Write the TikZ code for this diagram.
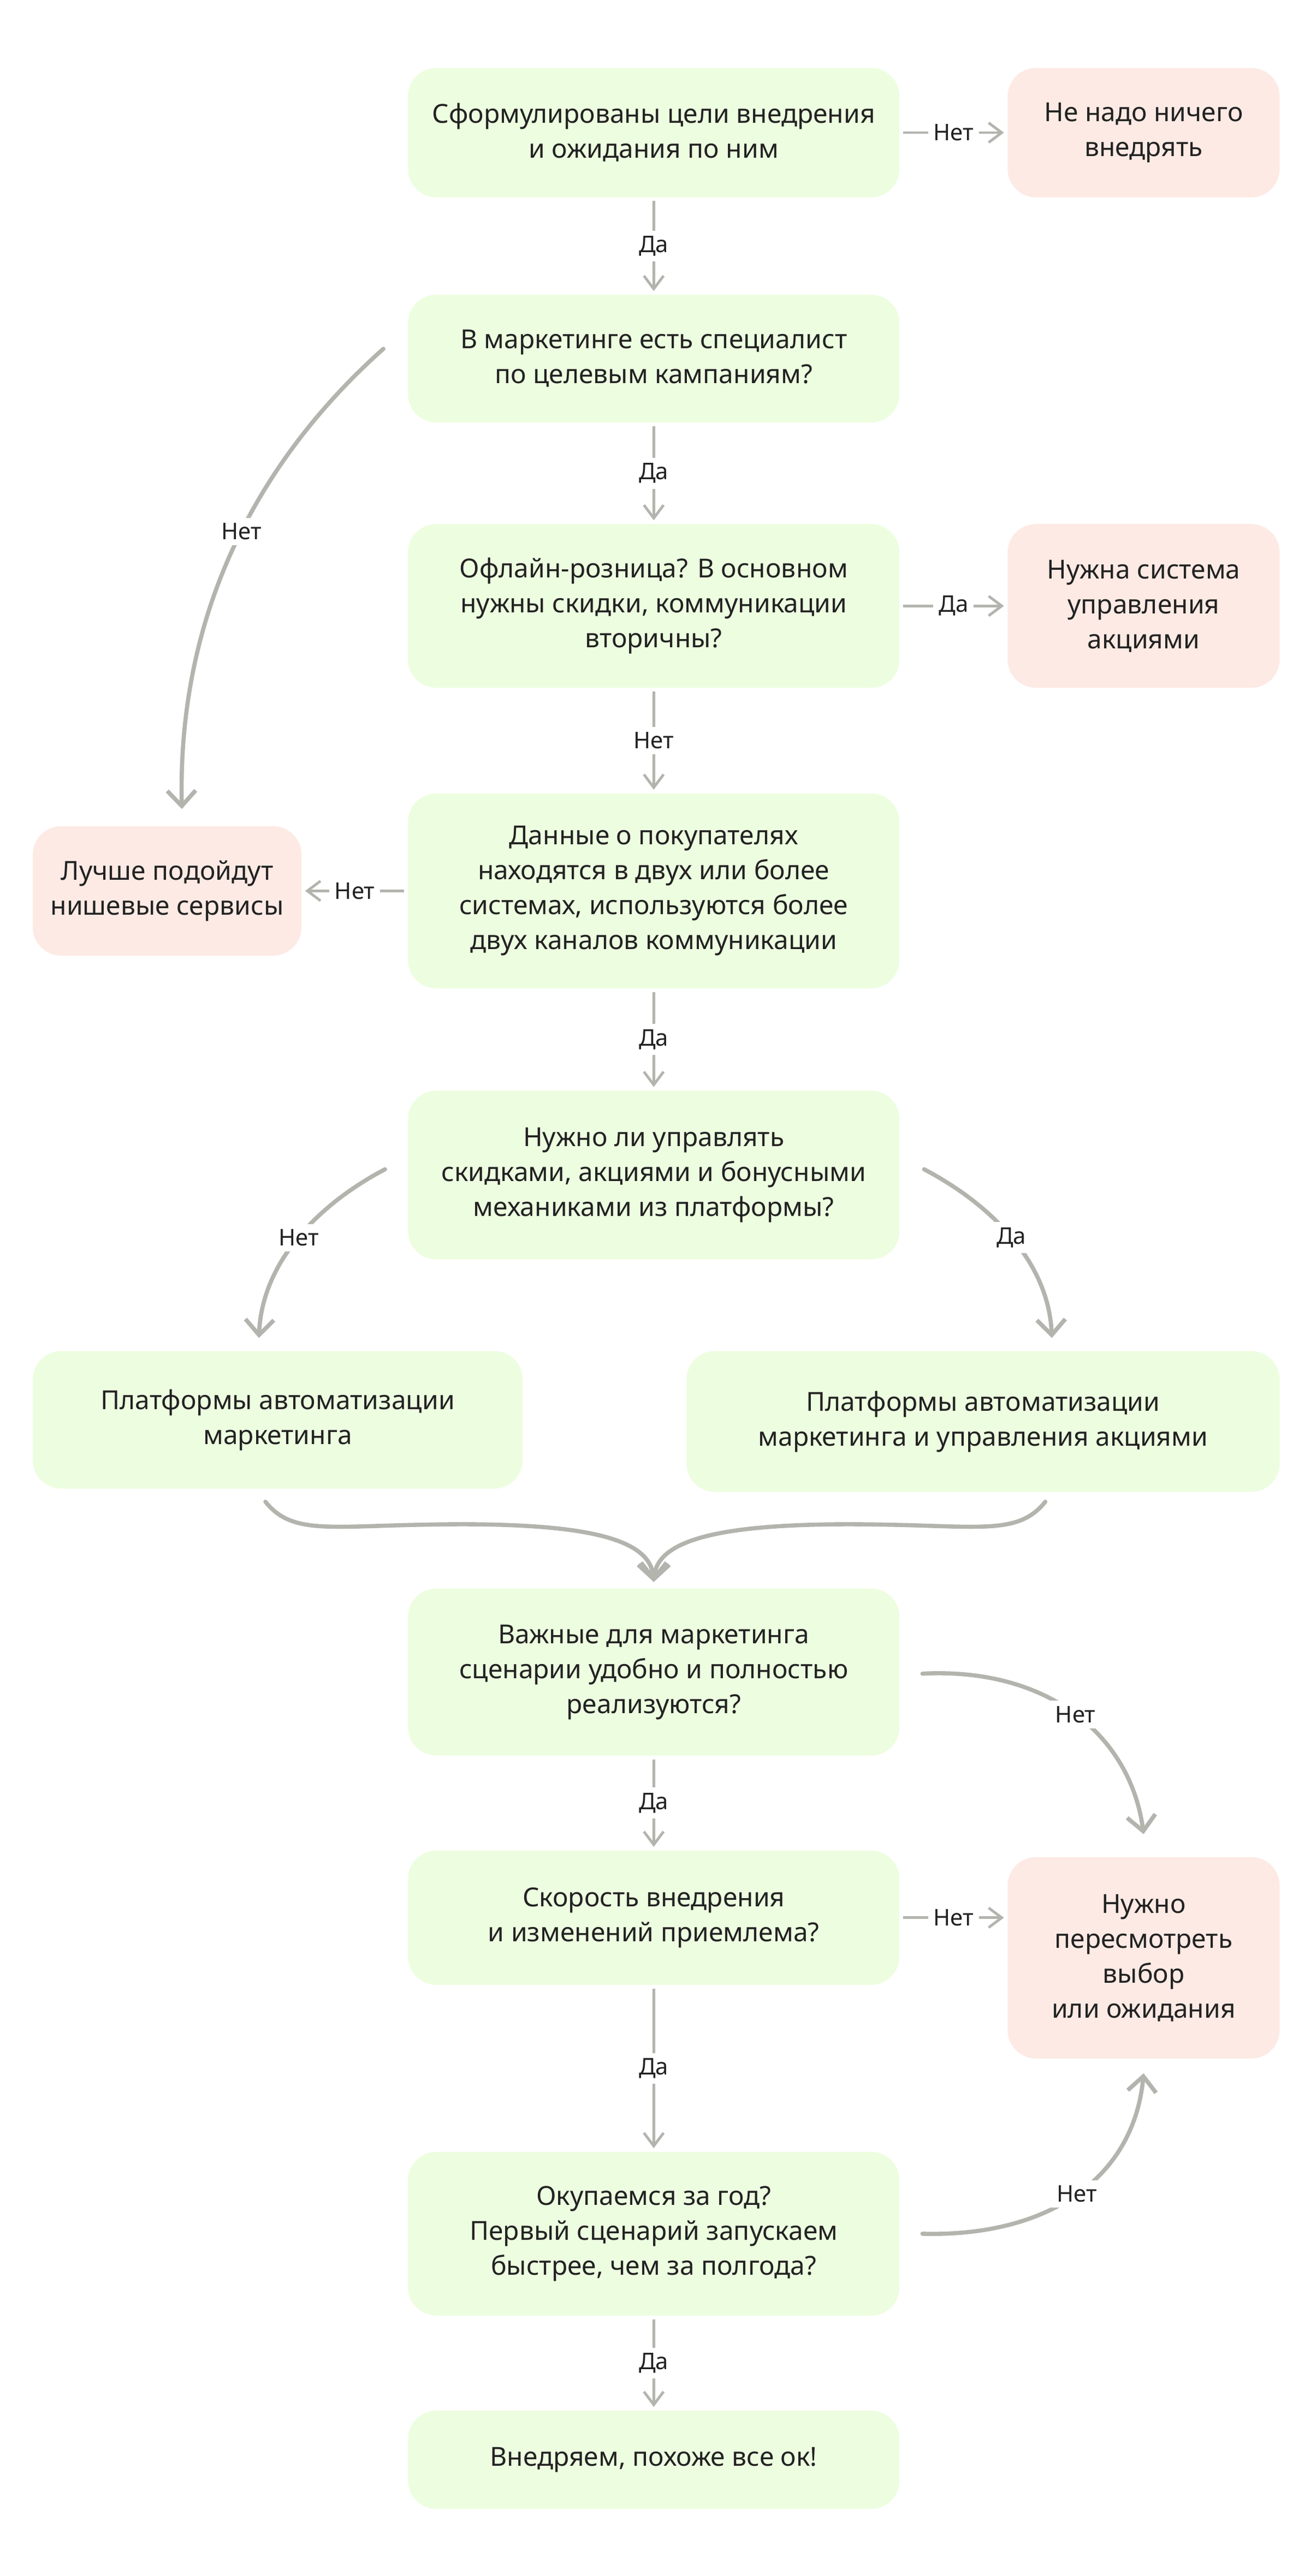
\documentclass[tikz,border=0pt]{standalone}
\usepackage{fontspec}
\setmainfont{Noto Sans}
\usetikzlibrary{arrows.meta}
\definecolor{bgreen}{HTML}{EDFEE0}
\definecolor{bpink}{HTML}{FDEAE4}
\definecolor{agray}{HTML}{B3B4AD}
\definecolor{tdark}{HTML}{222222}
\begin{document}
\begin{tikzpicture}[x=0.75pt,y=-0.75pt,
  box/.style={rounded corners=13pt, inner sep=0pt, align=center, text=tdark, font=\fontsize{12}{16}\selectfont},
  gbox/.style={box, fill=bgreen},
  pbox/.style={box, fill=bpink},
  athin/.style={draw=agray, line width=1.2pt, -{Straight Barb[length=6pt,width=9pt]}, shorten <=1.5pt, shorten >=1.5pt},
  athick/.style={draw=agray, line width=1.9pt, line cap=round, -{Straight Barb[length=7pt,width=13pt]}},
  lab/.style={fill=white, inner sep=2.5pt, text=tdark, font=\fontsize{10.5}{12}\selectfont}
]
\fill[white] (0,0) rectangle (800,1573);
\useasboundingbox (0,0) rectangle (800,1573);

% boxes
\node[gbox, minimum width=225pt, minimum height=59.25pt] (n1) at (399,81) {Сформулированы цели внедрения\\и ожидания по ним};
\node[pbox, minimum width=124.5pt, minimum height=59.25pt] (n2) at (698,81) {Не надо ничего\\внедрять};
\node[gbox, minimum width=225pt, minimum height=58.5pt] (n3) at (399,219) {В маркетинге есть специалист\\по целевым кампаниям?};
\node[gbox, minimum width=225pt, minimum height=75pt] (n4) at (399,370) {Офлайн-розница? В основном\\нужны скидки, коммуникации\\вторичны?};
\node[pbox, minimum width=124.5pt, minimum height=75pt] (n5) at (698,370) {Нужна система\\управления\\акциями};
\node[gbox, minimum width=225pt, minimum height=89.25pt] (n6) at (399,544) {Данные о покупателях\\находятся в двух или более\\системах, используются более\\двух каналов коммуникации};
\node[pbox, minimum width=123pt, minimum height=59.25pt] (n7) at (102,544) {Лучше подойдут\\нишевые сервисы};
\node[gbox, minimum width=225pt, minimum height=77.25pt] (n8) at (399,717.5) {Нужно ли управлять\\скидками, акциями и бонусными\\механиками из платформы?};
\node[gbox, minimum width=224.25pt, minimum height=63pt] (n9) at (169.5,867) {Платформы автоматизации\\маркетинга};
\node[gbox, minimum width=271.5pt, minimum height=64.5pt] (n10) at (600,868) {Платформы автоматизации\\маркетинга и управления акциями};
\node[gbox, minimum width=225pt, minimum height=76.5pt] (n11) at (399,1021) {Важные для маркетинга\\сценарии удобно и полностью\\реализуются?};
\node[gbox, minimum width=225pt, minimum height=61.5pt] (n12) at (399,1171) {Скорость внедрения\\и изменений приемлема?};
\node[pbox, minimum width=124.5pt, minimum height=92.25pt] (n13) at (698,1195.5) {Нужно\\пересмотреть\\выбор\\или ожидания};
\node[gbox, minimum width=225pt, minimum height=75pt] (n14) at (399,1364) {Окупаемся за год?\\Первый сценарий запускаем\\быстрее, чем за полгода?};
\node[gbox, minimum width=225pt, minimum height=45pt] (n15) at (399,1502) {Внедряем, похоже все ок!};

% straight connectors
\draw[athin] (n1) -- node[lab]{Да} (n3);
\draw[athin] (n1) -- node[lab]{Нет} (n2);
\draw[athin] (n3) -- node[lab]{Да} (n4);
\draw[athin] (n4) -- node[lab]{Да} (n5);
\draw[athin] (n4) -- node[lab]{Нет} (n6);
\draw[athin] (n6) -- node[lab]{Нет} (n7);
\draw[athin] (n6) -- node[lab]{Да} (n8);
\draw[athin] (n11) -- node[lab]{Да} (n12);
\draw[athin] (n12.east) -- node[lab]{Нет} (n12.east -| n13.west);
\draw[athin] (n12) -- node[lab]{Да} (n14);
\draw[athin] (n14) -- node[lab]{Да} (n15);

% curved connectors
\coordinate (c3) at (234,213);
\coordinate (c7) at (111,494);
\draw[athick] (c3) .. controls (170,270) and (108,360) .. node[lab, pos=0.5]{Нет} (c7);

\coordinate (c8l) at (235,714);
\coordinate (c9) at (158,817);
\draw[athick] (c8l) .. controls (195,735) and (160,770) .. node[lab, pos=0.5]{Нет} (c9);

\coordinate (c8r) at (564,714);
\coordinate (c10) at (642,817);
\draw[athick] (c8r) .. controls (604,735) and (640,770) .. node[lab, pos=0.5]{Да} (c10);

\coordinate (b9) at (162,917);
\coordinate (b10) at (638,917);
\coordinate (b11) at (399,966);
\draw[athick] (b9) .. controls (178,937) and (200,932) .. (260,931) .. controls (360,929) and (397,940) .. (b11);
\draw[athick] (b10) .. controls (622,937) and (600,932) .. (540,931) .. controls (440,929) and (401,940) .. (b11);

\coordinate (c11) at (563,1022);
\coordinate (c13t) at (698,1120);
\draw[athick] (c11) .. controls (640,1018) and (690,1060) .. node[lab, pos=0.5]{Нет} (c13t);

\coordinate (c14) at (563,1364);
\coordinate (c13b) at (698,1266);
\draw[athick] (c14) .. controls (640,1366) and (692,1330) .. node[lab, pos=0.5]{Нет} (c13b);
\end{tikzpicture}
\end{document}
